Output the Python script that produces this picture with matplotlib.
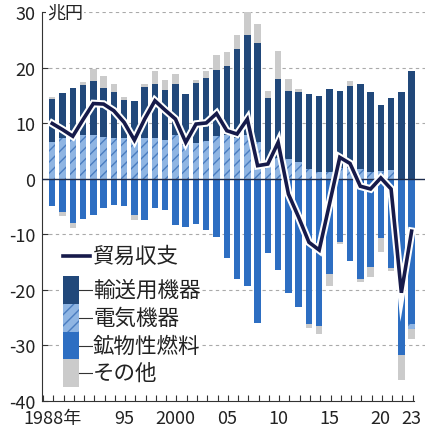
import numpy as np
import matplotlib
matplotlib.use('Agg')
import matplotlib.pyplot as plt
import matplotlib.patheffects as pe
from matplotlib.patches import Rectangle
from matplotlib.lines import Line2D

plt.rcParams['font.family'] = ['Noto Sans CJK JP', 'DejaVu Sans']
plt.rcParams['hatch.linewidth'] = 1.0

# data (trillion yen)
years = np.arange(1988, 2024)
transport = [7.7, 8.2, 9.0, 9.1, 9.7, 8.9, 8.2, 6.9, 6.8, 9.1, 9.9, 9.1,
             9.3, 9.2, 10.8, 11.4, 12.0, 12.4, 16.2, 18.1, 17.9, 11.3, 14.3, 12.3,
             12.6, 13.5, 13.7, 15.0, 13.9, 14.8, 15.3, 14.4, 11.9, 12.9, 15.7, 19.5]
electric = [6.7, 7.3, 7.4, 7.9, 7.9, 7.5, 7.4, 7.4, 7.2, 7.4, 7.3, 7.0,
            7.9, 6.1, 6.5, 6.8, 7.7, 7.9, 7.3, 7.9, 6.6, 3.3, 3.8, 3.6,
            3.0, 1.8, 1.2, 1.3, 1.9, 1.9, 1.8, 1.3, 1.5, 1.7, 0.0, -0.9]
fuel = [-4.9, -5.9, -8.0, -7.2, -6.5, -5.3, -4.7, -4.9, -6.5, -7.4, -5.3, -5.5,
        -8.2, -8.6, -8.1, -9.2, -10.5, -14.2, -18.0, -19.2, -26.0, -13.3, -16.4, -20.6,
        -23.1, -26.1, -26.4, -17.2, -11.3, -14.8, -18.1, -15.8, -10.6, -16.1, -31.7, -26.1]
other = [0.3, -0.8, -0.8, 0.5, 2.3, 2.2, 1.5, 0.4, -0.8, 0.7, 2.2, 1.7,
         1.7, 0.0, 0.6, 1.2, 2.7, 2.5, 2.4, 4.0, 3.4, 1.3, 4.9, 2.1,
         0.6, -0.8, -1.5, -2.0, -0.5, 1.0, -0.4, -1.8, -2.5, -0.4, -4.5, -1.9]
balance = [10.0, 8.9, 7.7, 10.7, 13.6, 13.5, 12.3, 10.2, 7.0, 10.8, 14.1, 12.4,
           10.8, 6.6, 9.9, 10.1, 11.8, 8.7, 8.1, 10.8, 2.4, 2.7, 6.6, -2.7,
           -6.9, -11.4, -12.8, -4.5, 3.9, 2.8, -1.3, -1.8, 0.2, -1.8, -20.5, -9.4]
xtick_years = [1988, 1995, 2000, 2005, 2010, 2015, 2020, 2023]
xtick_labels = ['1988年', '95', '2000', '05', '10', '15', '20', '23']

c_trans = '#21487a'
c_elec = '#8fb5e3'
c_elec_hatch = '#4a7dc0'
c_fuel = '#2d6ec2'
c_other = '#cbcbcb'
c_line = '#161a4a'

transport = np.array(transport)
electric = np.array(electric)
fuel = np.array(fuel)
other = np.array(other)

fig = plt.figure(figsize=(4.31, 4.31), dpi=100)
ax = fig.add_axes([0.0974, 0.0673, 0.8886, 0.9014])

w = 0.63
# positive side: electric, transport, other
e_pos = np.clip(electric, 0, None)
e_neg = np.clip(electric, None, 0)
o_pos = np.clip(other, 0, None)
o_neg = np.clip(other, None, 0)

ax.bar(years, e_pos, w, color=c_elec, edgecolor=c_elec_hatch, hatch='///', linewidth=0, zorder=2)
ax.bar(years, transport, w, bottom=e_pos, color=c_trans, linewidth=0, zorder=2)
ax.bar(years, o_pos, w, bottom=e_pos + transport, color=c_other, linewidth=0, zorder=2)
# negative side: fuel, electric, other
ax.bar(years, fuel, w, color=c_fuel, linewidth=0, zorder=2)
ax.bar(years, e_neg, w, bottom=fuel, color=c_elec, edgecolor=c_elec_hatch, hatch='///', linewidth=0, zorder=2)
ax.bar(years, o_neg, w, bottom=fuel + e_neg, color=c_other, linewidth=0, zorder=2)

ax.axhline(0, color='#1c2a4a', lw=1.0, zorder=3)

ax.plot(years, balance, color=c_line, lw=2.6, zorder=5, solid_joinstyle='miter',
        path_effects=[pe.Stroke(linewidth=5.5, foreground='white'), pe.Normal()])

ax.set_xlim(1987.0, 2024.3)
ax.set_ylim(-40, 30)

for v in [30, 20, 10, -10, -20, -30]:
    ax.axhline(v, color='#aaaaaa', lw=0.8, ls=(0, (3, 3)), zorder=1)

for s in ['top', 'right']:
    ax.spines[s].set_visible(False)
ax.spines['left'].set_color('#333333')
ax.spines['bottom'].set_color('#333333')
ax.spines['left'].set_linewidth(0.8)
ax.spines['bottom'].set_linewidth(0.8)
ax.spines['bottom'].set_bounds(1987.0, 2023.2)

ax.set_yticks([30, 20, 10, 0, -10, -20, -30, -40])
ax.set_yticklabels(['30', '20', '10', '0', '-10', '-20', '-30', '-40'])
ax.tick_params(axis='y', direction='in', length=4, width=0.8, colors='#333333',
               labelsize=13, pad=5, labelcolor='#222222')
ax.set_xticks(xtick_years)
ax.set_xticklabels(xtick_labels)
ax.set_xticks(np.arange(1987.1, 2024, 1), minor=True)
ax.tick_params(axis='x', which='major', length=0, labelsize=13, pad=6, labelcolor='#222222')
ax.tick_params(axis='x', which='minor', direction='in', length=4, width=0.8, color='#333333')

# unit label
ax.text(0.013, 1.0, '兆円', transform=ax.transAxes, fontsize=13, va='center', ha='left',
        color='#222222', zorder=6, bbox=dict(facecolor='white', edgecolor='none', pad=1))

# legend
ax.add_patch(Rectangle((0.045, 0.03), 0.09, 0.37, transform=ax.transAxes,
                       facecolor='white', edgecolor='none', zorder=4))
ax.add_line(Line2D([0.055, 0.125], [0.3725, 0.3725], transform=ax.transAxes,
                   color=c_line, lw=2.6, zorder=6))
ax.text(0.133, 0.3725, '貿易収支', transform=ax.transAxes, fontsize=15.5, va='center',
        ha='left', color='#222222', zorder=6,
        bbox=dict(facecolor='white', edgecolor='none', pad=0))

leg_items = [('輸送用機器', c_trans, None), ('電気機器', c_elec, '///'),
             ('鉱物性燃料', c_fuel, None), ('その他', c_other, None)]
bh = 0.0713
top = 0.2497 + bh
for i, (lab, col, hat) in enumerate(leg_items):
    y0 = top - (i + 1) * bh
    ax.add_patch(Rectangle((0.0556, y0), 0.041, bh, transform=ax.transAxes,
                           facecolor=col, edgecolor=c_elec_hatch if hat else 'none',
                           hatch=hat, linewidth=0, zorder=6))
    yc = y0 + bh / 2
    ax.add_line(Line2D([0.0966, 0.13], [yc, yc], transform=ax.transAxes,
                       color='#333333', lw=0.8, zorder=6))
    ax.text(0.133, yc, lab, transform=ax.transAxes, fontsize=15.5, va='center',
            ha='left', color='#222222', zorder=6,
            bbox=dict(facecolor='white', edgecolor='none', pad=0))

fig.savefig('out.png', dpi=100)
